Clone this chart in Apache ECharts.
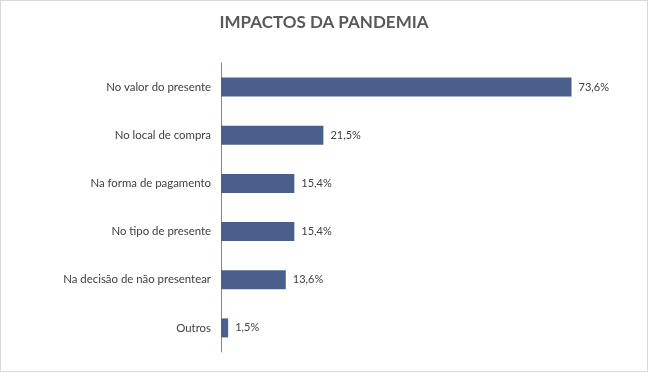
<!DOCTYPE html>
<html>
<head>
<meta charset="utf-8">
<script src="https://cdn.jsdelivr.net/npm/echarts@6/dist/echarts.min.js"></script>
<style>
  html, body { margin: 0; padding: 0; background: #fff; }
  #plot { width: 646px; height: 370px; border: 1px solid #d9d9d9; }
</style>
</head>
<body>
<div id="plot"></div>
<script>
// categorias (de cima para baixo) e valores em %
var categorias = ['No valor do presente', 'No local de compra', 'Na forma de pagamento', 'No tipo de presente', 'Na decisão de não presentear', 'Outros'];
var valores = [73.6, 21.5, 15.4, 15.4, 13.6, 1.5];

var myChart = echarts.init(document.getElementById('plot'));

var option = {
  animation: false,
  title: {
    text: 'IMPACTOS DA PANDEMIA',
    left: 'center',
    top: 8,
    textStyle: { fontFamily: 'Lato', fontSize: 17, fontWeight: 'bold', color: '#595959' }
  },
  grid: { left: 220, right: 45, top: 62, bottom: 19 },
  xAxis: {
    type: 'value',
    min: 0,
    max: 80,
    show: false
  },
  yAxis: {
    type: 'category',
    inverse: true,
    data: categorias,
    axisLine: { lineStyle: { color: '#868686', width: 1 } },
    axisTick: { length: 4, lineStyle: { color: '#868686' } },
    axisLabel: { margin: 10, fontFamily: 'Lato', fontSize: 11.4, color: '#404040' }
  },
  series: [{
    type: 'bar',
    data: valores,
    barWidth: 19,
    itemStyle: { color: '#4a5f8b' },
    label: {
      show: true,
      position: 'right',
      distance: 7,
      fontFamily: 'Lato',
      fontSize: 11,
      color: '#404040',
      formatter: function (p) { return p.value.toFixed(1).replace('.', ',') + '%'; }
    }
  }]
};

myChart.setOption(option);
</script>
</body>
</html>
